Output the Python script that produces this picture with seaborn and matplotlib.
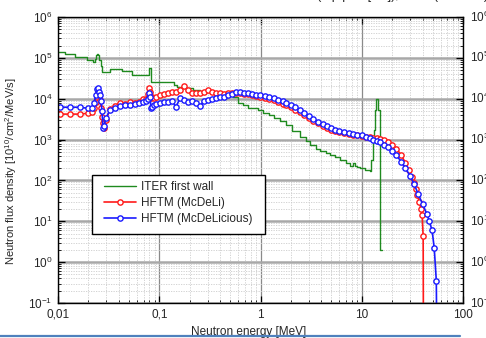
import matplotlib
matplotlib.use("Agg")
import matplotlib.pyplot as plt
import matplotlib.transforms as mtransforms
from matplotlib.lines import Line2D
from matplotlib.patches import Rectangle
from matplotlib.ticker import LogLocator, NullFormatter
import seaborn as sns

# ITER first wall spectrum (histogram, left bin edges)
iter_energy = [0.0100, 0.0117, 0.0147, 0.0193, 0.0221, 0.0232, 0.0237, 0.0243, 0.0250, 0.0256,
               0.0264, 0.0272, 0.0326, 0.0426, 0.0535, 0.0622, 0.0800, 0.0825, 0.14, 0.15,
               0.18, 0.216, 0.253, 0.40, 0.54, 0.60, 0.67, 0.75, 0.95, 1.06,
               1.20, 1.35, 1.56, 1.80, 2.05, 2.46, 2.8, 3.09, 3.5, 3.88,
               4.4, 4.88, 5.5, 6.12, 7.0, 7.68, 8.2, 8.6, 9.0, 9.64,
               10.8, 12.1, 12.4, 12.8, 13.2, 13.5, 13.8, 14.4, 15.1, 16.0]
iter_flux = [1.41e5, 1.22e5, 1.06e5, 8.8e4, 8.0e4, 9.5e4, 1.15e5, 1.25e5, 1.2e5, 9.0e4,
             6.5e4, 4.5e4, 5.3e4, 4.8e4, 3.8e4, 3.7e4, 5.6e4, 2.6e4, 2.2e4, 1.9e4,
             1.8e4, 1.63e4, 1.46e4, 1.38e4, 1.1e4, 7.9e3, 7.0e3, 5.9e3, 5.3e3, 4.5e3,
             4.0e3, 3.4e3, 2.8e3, 2.3e3, 1.6e3, 1.15e3, 900, 720, 600, 540,
             470, 430, 370, 320, 270, 230, 260, 230, 210, 200,
             185, 170, 320, 1.1e3, 1.75e3, 5.3e3, 1.0e4, 5.3e3, 2.0, 2.0]

# HFTM, McDeLi
mcdeli_energy = [0.0105, 0.0131, 0.0165, 0.0198, 0.0217, 0.0227, 0.0237, 0.0243, 0.0248, 0.0254,
                 0.0260, 0.0266, 0.0272, 0.0278, 0.0285, 0.0298, 0.0327, 0.0365, 0.041, 0.046,
                 0.051, 0.057, 0.063, 0.069, 0.0741, 0.0775, 0.0793, 0.0811, 0.0830, 0.0849,
                 0.0889, 0.0930, 0.102, 0.1115, 0.122, 0.134, 0.1465, 0.1605, 0.176, 0.193,
                 0.211, 0.231, 0.253, 0.277, 0.303, 0.333, 0.364, 0.399, 0.437, 0.479,
                 0.524, 0.574, 0.629, 0.689, 0.754, 0.826, 0.905, 0.99, 1.1, 1.2,
                 1.35, 1.5, 1.65, 1.8, 2.0, 2.2, 2.45, 2.7, 3.0, 3.3,
                 3.7, 4.1, 4.5, 5.0, 5.5, 6.0, 6.7, 7.4, 8.2, 9.0,
                 10, 11, 12, 13, 14, 15, 16.5, 18, 20, 22,
                 24.5, 27, 29, 31, 32.5, 34, 35.5, 37, 38.5, 39.5,
                 40.4, 40.8]
mcdeli_flux = [4.2e3, 4.2e3, 4.2e3, 4.4e3, 4.7e3, 6.0e3, 8.5e3, 1.1e4, 1.46e4, 1.2e4,
               9.3e3, 6.0e3, 3.5e3, 2.5e3, 1.9e3, 3.0e3, 5.6e3, 6.8e3, 7.9e3, 7.6e3,
               8.3e3, 7.9e3, 8.5e3, 1.0e4, 1.0e4, 1.3e4, 1.83e4, 1.5e4, 1.04e4, 1.1e4,
               1.04e4, 1.1e4, 1.23e4, 1.3e4, 1.38e4, 1.46e4, 1.46e4, 1.6e4, 2.1e4, 1.63e4,
               1.4e4, 1.38e4, 1.38e4, 1.5e4, 1.63e4, 1.5e4, 1.4e4, 1.38e4, 1.3e4, 1.35e4,
               1.4e4, 1.4e4, 1.38e4, 1.33e4, 1.27e4, 1.2e4, 1.14e4, 1.08e4, 1.03e4, 9.8e3,
               9.1e3, 8.3e3, 7.6e3, 7.0e3, 6.1e3, 5.4e3, 4.7e3, 4.0e3, 3.3e3, 2.9e3,
               2.5e3, 2.15e3, 1.92e3, 1.74e3, 1.62e3, 1.52e3, 1.44e3, 1.37e3, 1.31e3, 1.26e3,
               1.21e3, 1.17e3, 1.13e3, 1.1e3, 1.07e3, 1.03e3, 960, 870, 750, 600,
               420, 270, 180, 120, 85, 60, 45, 30, 20, 14,
               4.3, 1e-3]

# HFTM, McDeLicious
mcdelicious_energy = [0.0105, 0.0131, 0.0165, 0.0198, 0.0217, 0.0227, 0.0237, 0.0243, 0.0248, 0.0254,
                      0.0260, 0.0266, 0.0272, 0.0278, 0.0285, 0.0298, 0.0327, 0.0365, 0.041, 0.046,
                      0.051, 0.057, 0.063, 0.069, 0.0741, 0.0775, 0.0793, 0.0811, 0.0830, 0.0849,
                      0.0889, 0.0930, 0.102, 0.1115, 0.122, 0.134, 0.1465, 0.1605, 0.176, 0.193,
                      0.211, 0.231, 0.253, 0.277, 0.303, 0.333, 0.364, 0.399, 0.437, 0.479,
                      0.524, 0.574, 0.629, 0.689, 0.754, 0.826, 0.905, 0.99, 1.1, 1.2,
                      1.35, 1.5, 1.65, 1.8, 2.0, 2.2, 2.45, 2.7, 3.0, 3.3,
                      3.7, 4.1, 4.5, 5.0, 5.5, 6.0, 6.7, 7.4, 8.2, 9.0,
                      10, 11, 12, 13, 14, 15, 16.5, 18, 20, 22,
                      24.5, 27, 30, 33, 36, 40, 44, 46.5, 49.5, 52,
                      54.5, 55.5]
mcdelicious_flux = [6.2e3, 6.2e3, 6.2e3, 5.8e3, 6.0e3, 7.9e3, 1.23e4, 1.7e4, 1.85e4, 1.46e4,
                    1.2e4, 9.0e3, 5.0e3, 1.95e3, 2.2e3, 3.4e3, 5.3e3, 5.9e3, 6.5e3, 7.0e3,
                    7.0e3, 7.4e3, 8.0e3, 8.3e3, 8.8e3, 1.0e4, 1.38e4, 1.1e4, 5.9e3, 6.3e3,
                    7.0e3, 7.4e3, 7.9e3, 8.3e3, 8.3e3, 8.8e3, 6.3e3, 1.04e4, 9.5e3, 8.3e3,
                    8.8e3, 8.0e3, 6.6e3, 9.0e3, 9.3e3, 1.0e4, 1.04e4, 1.1e4, 1.1e4, 1.2e4,
                    1.3e4, 1.42e4, 1.46e4, 1.4e4, 1.35e4, 1.3e4, 1.25e4, 1.22e4, 1.15e4, 1.1e4,
                    1.03e4, 9.3e3, 8.6e3, 7.9e3, 6.9e3, 6.1e3, 5.3e3, 4.5e3, 3.7e3, 3.2e3,
                    2.75e3, 2.35e3, 2.1e3, 1.88e3, 1.75e3, 1.63e3, 1.55e3, 1.47e3, 1.4e3, 1.33e3,
                    1.26e3, 1.17e3, 1.09e3, 1.0e3, 930, 850, 750, 660, 530, 410,
                    290, 200, 130, 80, 47, 26, 15, 10, 6.0, 2.2,
                    0.35, 1e-3]

x_ticks = [0.01, 0.1, 1, 10, 100]
x_tick_labels = ["0,01", "0,1", "1", "10", "100"]
y_ticks = [1e-1, 1e0, 1e1, 1e2, 1e3, 1e4, 1e5, 1e6]
y_tick_labels = [r"$10^{-1}$", r"$10^{0}$", r"$10^{1}$", r"$10^{2}$",
                 r"$10^{3}$", r"$10^{4}$", r"$10^{5}$", r"$10^{6}$"]

sns.set_style("ticks")
plt.rcParams["font.family"] = ["Liberation Sans", "DejaVu Sans"]
plt.rcParams["mathtext.fontset"] = "custom"
plt.rcParams["mathtext.rm"] = "Liberation Sans"
plt.rcParams["mathtext.it"] = "Liberation Sans:italic"

W, H = 486, 338
fig = plt.figure(figsize=(W / 100, H / 100), dpi=100)
ax = fig.add_axes([58 / W, 1 - 303 / H, 405 / W, 286 / H])
ax.set_xscale("log")
ax.set_yscale("log")

sns.lineplot(x=iter_energy, y=iter_flux, ax=ax, color="#1f8a1f", lw=1.0,
             drawstyle="steps-post", sort=False, estimator=None, label="ITER first wall")
sns.lineplot(x=mcdeli_energy, y=mcdeli_flux, ax=ax, color="#ff1a1a", lw=1.2,
             marker="o", ms=3.8, mfc="white", mec="#ff1a1a", mew=1.0,
             sort=False, estimator=None, label="HFTM (McDeLi)")
sns.lineplot(x=mcdelicious_energy, y=mcdelicious_flux, ax=ax, color="#1a1aff", lw=1.2,
             marker="o", ms=3.8, mfc="white", mec="#1a1aff", mew=1.0,
             sort=False, estimator=None, label="HFTM (McDeLicious)")

ax.set_xlim(0.01, 100)
ax.set_ylim(0.1, 1e6)
ax.set_xticks(x_ticks, x_tick_labels)
ax.set_yticks(y_ticks, y_tick_labels)
ax.xaxis.set_minor_locator(LogLocator(base=10, subs=range(2, 10), numticks=50))
ax.yaxis.set_minor_locator(LogLocator(base=10, subs=range(2, 10), numticks=50))
ax.xaxis.set_minor_formatter(NullFormatter())
ax.yaxis.set_minor_formatter(NullFormatter())
ax.tick_params(which="both", direction="in", top=True, right=True, color="black",
               labelsize=8.5, pad=4)
ax.tick_params(which="major", length=5, width=0.9)
ax.tick_params(which="minor", length=2.5, width=0.6)

ax.xaxis.grid(True, which="major", color="#8a8a8a", lw=0.9)
ax.yaxis.grid(True, which="major", color="#a8a8a8", lw=1.8)
ax.grid(True, which="minor", color="#cccccc", lw=0.6, ls=(0, (1.5, 1.5)))
ax.set_axisbelow(True)
for s in ax.spines.values():
    s.set_color("black")
    s.set_linewidth(1.0)

ax.set_xlabel("Neutron energy [MeV]", fontsize=8.5)
ax.set_ylabel(r"Neutron flux density [10$^{10}$/cm$^{2}$/MeV/s]", fontsize=8)
ax.xaxis.set_label_coords(0.47, -0.08)
ax.yaxis.set_label_coords(-0.097, 0.46)

# legend box
ax.add_patch(Rectangle((92 / W, 1 - 234 / H), 173 / W, 59 / H, transform=fig.transFigure,
                       facecolor="white", edgecolor="black", lw=1.0, zorder=4.5, clip_on=False))
ax.legend(loc="upper left", bbox_to_anchor=(104 / W, 1 - 181 / H), bbox_transform=fig.transFigure,
          frameon=False, fontsize=8.5, handlelength=2.7, handletextpad=0.45,
          labelspacing=0.35, borderpad=0, borderaxespad=0)

# tick labels of the neighbouring chart, cut by the frame
blend = mtransforms.blended_transform_factory(ax.transAxes, ax.transData)
for v, lab in zip(y_ticks, y_tick_labels):
    ax.text(1 + 7 / 405, v, lab, transform=blend, ha="left", va="center",
            fontsize=8.5, clip_on=False)

# title of the slide, cut at the top
fig.text(0.575, 1 + 1.5 / H, "HFTM (top part [cm]), ITER (first wall)", ha="left",
         va="baseline", fontsize=9)

fig.add_artist(Line2D([0, 460 / W], [1 - 335.5 / H] * 2, color="#4f81bd", lw=1.6))

fig.savefig("out.png", dpi=100)
